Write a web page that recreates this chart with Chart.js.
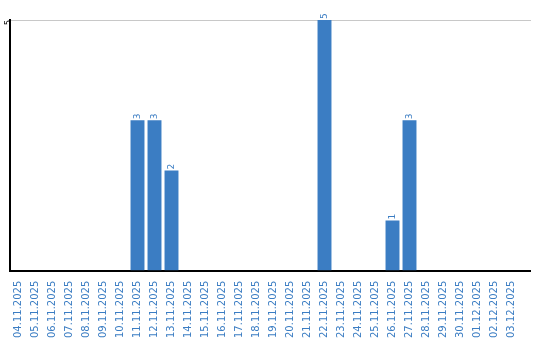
<!DOCTYPE html>
<html>
<head>
<meta charset="utf-8">
<script src="https://cdn.jsdelivr.net/npm/chart.js@4"></script>
<style>
  html, body { margin: 0; padding: 0; background: #fff; }
  #wrap { width: 540px; height: 340px; }
</style>
</head>
<body>
<div id="wrap"><canvas id="chart"></canvas></div>
<script>
const dates = ['04.11.2025', '05.11.2025', '06.11.2025', '07.11.2025', '08.11.2025', '09.11.2025',
    '10.11.2025', '11.11.2025', '12.11.2025', '13.11.2025', '14.11.2025', '15.11.2025',
    '16.11.2025', '17.11.2025', '18.11.2025', '19.11.2025', '20.11.2025', '21.11.2025',
    '22.11.2025', '23.11.2025', '24.11.2025', '25.11.2025', '26.11.2025', '27.11.2025',
    '28.11.2025', '29.11.2025', '30.11.2025', '01.12.2025', '02.12.2025', '03.12.2025'];
const counts = [0, 0, 0, 0, 0, 0, 0, 3, 3, 2, 0, 0, 0, 0, 0, 0, 0, 0, 5, 0, 0, 0, 1, 3, 0, 0, 0, 0, 0, 0];
const yTicks = [5];

const blue = '#3b7dc3';

// value labels above bars, rotated; plus the axis/grid overhang on the right
const barLabels = {
    id: 'barLabels',
    afterDatasetsDraw(chart) {
        const ctx = chart.ctx;
        const meta = chart.getDatasetMeta(0);
        const area = chart.chartArea;
        const y = chart.scales.y;
        ctx.save();
        ctx.strokeStyle = '#c8c8c8';
        ctx.lineWidth = 1;
        yTicks.forEach(t => {
            const py = Math.round(y.getPixelForValue(t)) + 0.5;
            ctx.beginPath();
            ctx.moveTo(area.right, py);
            ctx.lineTo(area.right + 11, py);
            ctx.stroke();
        });
        ctx.strokeStyle = '#000';
        ctx.lineWidth = 2;
        const by = Math.round(y.getPixelForValue(0));
        ctx.beginPath();
        ctx.moveTo(area.right - 1, by);
        ctx.lineTo(area.right + 11, by);
        ctx.stroke();

        ctx.fillStyle = blue;
        ctx.font = '9px "DejaVu Sans"';
        ctx.textAlign = 'left';
        ctx.textBaseline = 'middle';
        meta.data.forEach((bar, i) => {
            if (!counts[i]) return;
            ctx.save();
            ctx.translate(bar.x, bar.y - 1);
            ctx.rotate(-Math.PI / 2);
            ctx.fillText(String(counts[i]), 0, 0);
            ctx.restore();
        });
        ctx.restore();
    }
};

new Chart(document.getElementById('chart'), {
    type: 'bar',
    data: {
        labels: dates,
        datasets: [{
            data: counts,
            backgroundColor: blue,
            barPercentage: 0.82,
            categoryPercentage: 1,
        }],
    },
    options: {
        responsive: true,
        maintainAspectRatio: false,
        animation: false,
        layout: { padding: { top: 20, right: 20, left: 0, bottom: 0 } },
        plugins: { legend: { display: false }, tooltip: { enabled: false } },
        scales: {
            x: {
                grid: { display: false },
                border: { color: '#000', width: 2 },
                ticks: {
                    color: blue,
                    font: { family: 'DejaVu Sans', size: 10 },
                    minRotation: 90,
                    maxRotation: 90,
                    autoSkip: false,
                    padding: 2,
                },
            },
            y: {
                min: 0,
                max: 5,
                afterBuildTicks(scale) {
                    scale.ticks = [0].concat(yTicks).map(v => ({ value: v }));
                },
                afterFit(scale) {
                    scale.width = 10;
                },
                grid: { color: '#c8c8c8', drawTicks: false },
                border: { color: '#000', width: 2 },
                ticks: {
                    color: '#000',
                    font: { family: 'DejaVu Sans', size: 8 },
                    minRotation: 90,
                    maxRotation: 90,
                    padding: 1,
                    callback: v => (v === 0 ? '' : v),
                },
            },
        },
    },
    plugins: [barLabels],
});
</script>
</body>
</html>
